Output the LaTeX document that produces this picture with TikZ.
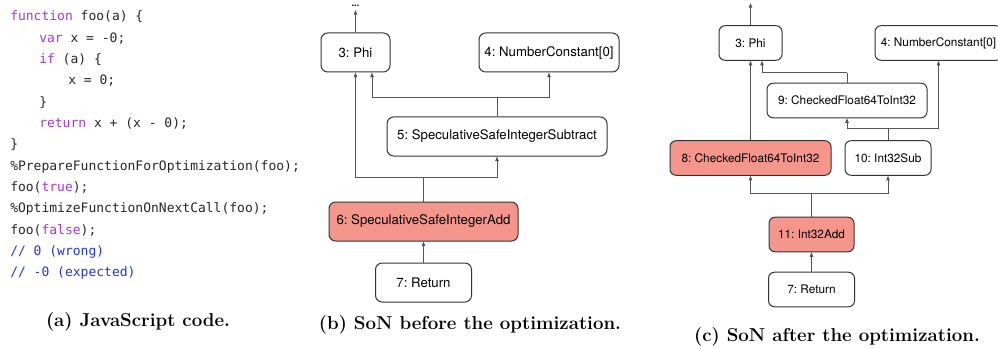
\documentclass[tikz,border=0pt]{standalone}
\usepackage{fontspec}
\setsansfont{TeX Gyre Heros}
\newfontfamily\codefont{DejaVu Sans Mono}
\usetikzlibrary{arrows.meta,calc}
\definecolor{kwc}{HTML}{AA33DD}
\definecolor{cmc}{HTML}{2233EE}
\definecolor{salmon}{HTML}{F5968C}
\definecolor{bordc}{HTML}{333333}
\definecolor{edgec}{HTML}{555555}
\newcommand\kw[1]{\textcolor{kwc}{#1}}
\newcommand\cmt[1]{\textcolor{cmc}{#1}}
\frenchspacing
\begin{document}
\begin{tikzpicture}[x=0.75pt,y=-0.75pt,
 codeline/.style={anchor=base west,inner sep=0,font=\codefont\fontsize{9.75}{12}\selectfont,text=black!85},
 sonbox/.style={draw=bordc,line width=0.75pt,rounded corners=5pt,inner sep=0,font=\sffamily\fontsize{9.9}{12}\selectfont,minimum height=29.25pt},
 sonc/.style={sonbox,font=\sffamily\fontsize{8.85}{11}\selectfont,minimum height=25.9pt,rounded corners=4.5pt},
 hot/.style={fill=salmon},
 edge/.style={draw=edgec,line width=0.75pt,-{Triangle[length=3.5pt,width=2.6pt]}},
 link/.style={draw=edgec,line width=0.75pt},
 caption/.style={font=\fontsize{14}{17}\selectfont\bfseries,inner sep=0}]
\useasboundingbox (0,0) rectangle (998,349);

% ---- (a) code ----
\node[codeline] (l1) at (10,21) {\kw{function} foo(a) \{};
\node[codeline] (l2) at (39,42.3) {\kw{var} x = -0;};
\node[codeline] (l3) at (39,63.6) {\kw{if} (a) \{};
\node[codeline] (l4) at (68,84.9) {x = 0;};
\node[codeline] (l5) at (39,106.2) {\}};
\node[codeline] (l6) at (39,127.5) {\kw{return} x + (x - 0);};
\node[codeline] (l7) at (10,148.8) {\}};
\node[codeline] (l8) at (10,170.1) {\%PrepareFunctionForOptimization(foo);};
\node[codeline] (l9) at (10,191.4) {foo(\kw{true});};
\node[codeline] (l10) at (10,212.7) {\%OptimizeFunctionOnNextCall(foo);};
\node[codeline] (l11) at (10,234) {foo(\kw{false});};
\node[codeline] (l12) at (10,255.3) {\cmt{// 0 (wrong)}};
\node[codeline] (l13) at (10,276.6) {\cmt{// -0 (expected)}};
\node[caption] (capA) at (138,322) {(a) JavaScript code.};

% ---- (b) before ----
\node[sonbox,minimum width=51.75pt] (b3) at (355.5,52.5) {3: Phi};
\node[sonbox,minimum width=105pt] (b4) at (549,52.5) {4: NumberConstant[0]};
\node[sonbox,minimum width=165pt] (b5) at (497,136.5) {5: SpeculativeSafeIntegerSubtract};
\node[sonbox,hot,minimum width=141.75pt] (b6) at (423.5,221.5) {6: SpeculativeSafeIntegerAdd};
\node[sonbox,minimum width=72pt] (b7) at (423.5,282.5) {7: Return};
\node[inner sep=0,anchor=base,text height=1.5pt,text depth=0pt,font=\sffamily\bfseries\fontsize{7}{8}\selectfont] (bdots) at (355.5,6.5) {...};
\coordinate (btop) at (355.5,10);
\coordinate (bj1) at (497,98);
\coordinate (bj2) at (423.5,177);
\draw[edge] (b3.north) -- (btop);
\draw[link] (b5.north) -- (bj1);
\draw[edge] (bj1) -| ($(b3.south)+(16.5,0)$);
\draw[edge] (bj1) -| (b4.south);
\draw[link] (b6.north) -- (bj2);
\draw[edge] (bj2) -| (b3.south);
\draw[edge] (bj2) -| (b5.south);
\draw[edge] (b7.north) -- (b6.south);
\node[caption] (capB) at (470,325) {(b) SoN before the optimization.};

% ---- (c) after ----
\node[sonc,minimum width=47.25pt] (c3) at (750.5,43) {3: Phi};
\node[sonc,minimum width=95.25pt] (c4) at (938.5,43) {4: NumberConstant[0]};
\node[sonc,minimum width=120pt] (c9) at (847,100.5) {9: CheckedFloat64ToInt32};
\node[sonc,hot,minimum width=120.75pt] (c8) at (750.5,158) {8: CheckedFloat64ToInt32};
\node[sonc,minimum width=64.5pt] (c10) at (888,158) {10: Int32Sub};
\node[sonc,hot,minimum width=63.75pt] (c11) at (811.5,234.5) {11: Int32Add};
\node[sonc,minimum width=64.5pt] (c7) at (811.5,289.5) {7: Return};
\coordinate (ctop) at (750.5,3);
\coordinate (cj0) at (847,73);
\coordinate (cj1) at (888,129);
\coordinate (cj2) at (811.5,193);
\draw[edge] (c3.north) -- (ctop);
\draw[edge] (c8.north) -- (c3.south);
\draw[link] (c9.north) -- (cj0);
\draw[edge] (cj0) -| ($(c3.south)+(11.5,0)$);
\draw[link] (c10.north) -- (cj1);
\draw[edge] (cj1) -| (c9.south);
\draw[edge] (cj1) -| (c4.south);
\draw[link] (c11.north) -- (cj2);
\draw[edge] (cj2) -| (c8.south);
\draw[edge] (cj2) -| (c10.south);
\draw[edge] (c7.north) -- (c11.south);
\node[caption] (capC) at (837,337) {(c) SoN after the optimization.};
\end{tikzpicture}
\end{document}
